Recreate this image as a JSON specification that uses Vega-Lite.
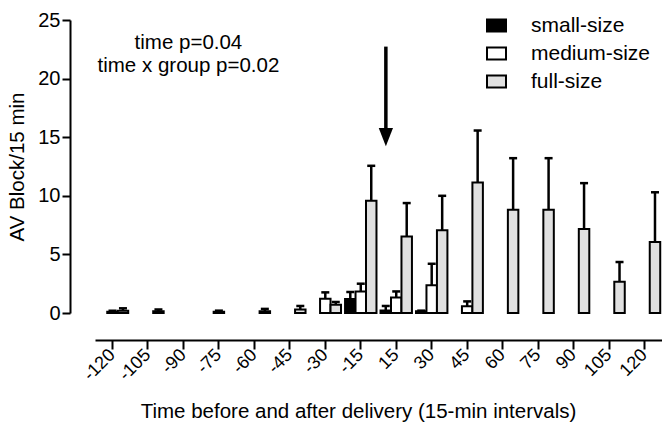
{
  "$schema": "https://vega.github.io/schema/vega-lite/v6.json",
  "width": 567,
  "height": 293,
  "autosize": "none",
  "padding": {"left": 95, "top": 20, "right": 0, "bottom": 116},
  "config": {
    "view": {"stroke": null},
    "font": "Liberation Sans",
    "axis": {
      "grid": false,
      "domainColor": "black",
      "tickColor": "black",
      "labelColor": "black",
      "titleColor": "black",
      "domainWidth": 2,
      "tickWidth": 2,
      "labelFont": "Liberation Sans",
      "titleFont": "Liberation Sans",
      "titleFontWeight": "normal"
    },
    "legend": {
      "orient": "none",
      "legendX": 391,
      "legendY": -5,
      "padding": 0,
      "symbolType": "M-1,-0.63H1V0.63H-1Z",
      "symbolSize": 361,
      "symbolStrokeColor": "black",
      "symbolStrokeWidth": 2,
      "symbolOpacity": 1,
      "labelFont": "Liberation Sans",
      "labelFontSize": 21,
      "labelColor": "black",
      "labelOffset": 24,
      "rowPadding": 6
    }
  },
  "datasets": {
    "bars": [
      {"time": "-120", "group": "medium-size", "mean": 0.1, "upper": 0.2},
      {"time": "-120", "group": "full-size", "mean": 0.2, "upper": 0.4},
      {"time": "-105", "group": "full-size", "mean": 0.15, "upper": 0.3},
      {"time": "-75", "group": "medium-size", "mean": 0.1, "upper": 0.2},
      {"time": "-60", "group": "full-size", "mean": 0.15, "upper": 0.35},
      {"time": "-45", "group": "full-size", "mean": 0.3, "upper": 0.6},
      {"time": "-30", "group": "medium-size", "mean": 1.22, "upper": 1.76},
      {"time": "-30", "group": "full-size", "mean": 0.71, "upper": 0.94},
      {"time": "-15", "group": "small-size", "mean": 1.19, "upper": 1.79},
      {"time": "-15", "group": "medium-size", "mean": 1.84, "upper": 2.5},
      {"time": "-15", "group": "full-size", "mean": 9.57, "upper": 12.56},
      {"time": "15", "group": "small-size", "mean": 0.22, "upper": 0.6},
      {"time": "15", "group": "medium-size", "mean": 1.33, "upper": 1.84},
      {"time": "15", "group": "full-size", "mean": 6.53, "upper": 9.38},
      {"time": "30", "group": "small-size", "mean": 0.15, "upper": 0.2},
      {"time": "30", "group": "medium-size", "mean": 2.36, "upper": 4.2},
      {"time": "30", "group": "full-size", "mean": 7.07, "upper": 10.0},
      {"time": "45", "group": "medium-size", "mean": 0.57, "upper": 0.99},
      {"time": "45", "group": "full-size", "mean": 11.13, "upper": 15.57},
      {"time": "60", "group": "full-size", "mean": 8.81, "upper": 13.21},
      {"time": "75", "group": "full-size", "mean": 8.81, "upper": 13.21},
      {"time": "90", "group": "full-size", "mean": 7.16, "upper": 11.08},
      {"time": "105", "group": "full-size", "mean": 2.67, "upper": 4.35},
      {"time": "120", "group": "full-size", "mean": 6.05, "upper": 10.3}
    ],
    "arrow": [
      {"time": "15", "top": 22.73, "base": 15.5, "head": 15.0}
    ],
    "note": [
      {"time": "-90", "line": "time p=0.04", "y": 22.53},
      {"time": "-90", "line": "time x group p=0.02", "y": 20.6}
    ]
  },
  "layer": [
    {
      "data": {"name": "bars"},
      "mark": {"type": "bar", "stroke": "black", "strokeWidth": 2},
      "encoding": {
        "x": {
          "field": "time", "type": "nominal",
          "scale": {"domain": ["-120","-105","-90","-75","-60","-45","-30","-15","15","30","45","60","75","90","105","120"], "paddingInner": 0.114, "paddingOuter": 0.05},
          "axis": {
            "title": "Time before and after delivery (15-min intervals)",
            "labelAngle": -45,
            "labelAlign": "right",
            "labelBaseline": "middle",
            "labelFontSize": 18,
            "labelPadding": 3,
            "tickSize": 9,
            "offset": 27,
            "titleFontSize": 20.5,
            "titlePadding": 18,
            "titleX": 263
          }
        },
        "xOffset": {"field": "group", "type": "nominal", "scale": {"domain": ["small-size","medium-size","full-size"], "paddingInner": 0, "paddingOuter": 0}},
        "y": {
          "field": "mean", "type": "quantitative",
          "scale": {"domain": [0, 25], "nice": false},
          "axis": {
            "title": "AV Block/15 min",
            "values": [0, 5, 10, 15, 20, 25],
            "tickSize": 8,
            "labelFontSize": 20,
            "labelPadding": 2,
            "offset": 25,
            "titleFontSize": 20.5,
            "titlePadding": 10
          }
        },
        "fill": {
          "field": "group", "type": "nominal",
          "scale": {"domain": ["small-size","medium-size","full-size"], "range": ["#000000","#ffffff","#e0e0e0"]},
          "legend": {"title": null}
        }
      }
    },
    {
      "data": {"name": "bars"},
      "mark": {"type": "rule", "color": "black", "strokeWidth": 2.5},
      "encoding": {
        "x": {"field": "time", "type": "nominal"},
        "xOffset": {"field": "group", "type": "nominal"},
        "y": {"field": "mean", "type": "quantitative"},
        "y2": {"field": "upper"}
      }
    },
    {
      "data": {"name": "bars"},
      "mark": {"type": "tick", "orient": "horizontal", "color": "black", "size": 8, "thickness": 2.5, "opacity": 1},
      "encoding": {
        "x": {"field": "time", "type": "nominal"},
        "xOffset": {"field": "group", "type": "nominal"},
        "y": {"field": "upper", "type": "quantitative"}
      }
    },
    {
      "data": {"name": "arrow"},
      "mark": {"type": "rule", "color": "black", "strokeWidth": 3.5},
      "encoding": {
        "x": {"field": "time", "type": "nominal", "bandPosition": 0.17},
        "y": {"field": "top", "type": "quantitative"},
        "y2": {"field": "base"}
      }
    },
    {
      "data": {"name": "arrow"},
      "mark": {"type": "point", "shape": "M-0.78,-1L0.78,-1L0,1Z", "size": 335, "filled": true, "color": "black", "opacity": 1},
      "encoding": {
        "x": {"field": "time", "type": "nominal", "bandPosition": 0.17},
        "y": {"field": "head", "type": "quantitative"}
      }
    },
    {
      "data": {"name": "note"},
      "mark": {"type": "text", "fontSize": 20.5, "color": "black", "align": "center", "baseline": "alphabetic", "dx": 5, "font": "Liberation Sans"},
      "encoding": {
        "x": {"field": "time", "type": "nominal"},
        "y": {"field": "y", "type": "quantitative"},
        "text": {"field": "line"}
      }
    }
  ]
}
